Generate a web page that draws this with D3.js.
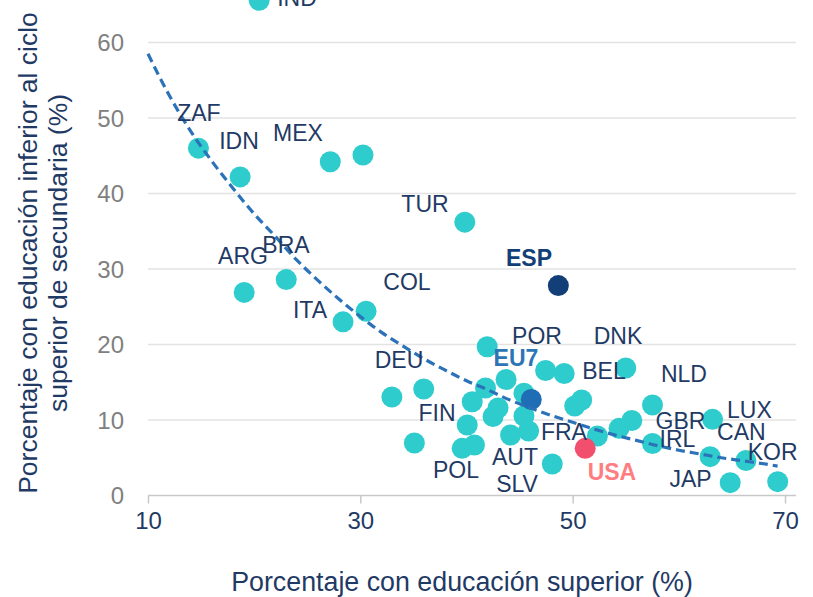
<!DOCTYPE html>
<html>
<head>
<meta charset="utf-8">
<script src="https://cdn.jsdelivr.net/npm/d3@7"></script>
<style>
  html, body { margin: 0; padding: 0; background: #ffffff; }
  svg { display: block; }
  text { font-family: "Liberation Sans", Arial, sans-serif; }
</style>
</head>
<body>
<svg id="chart" width="813" height="597"></svg>
<script>
// ---- Data ----
const pointX = [20.47, 14.75, 18.68, 27.17, 30.25, 19.06, 23.02, 28.37, 30.54, 39.84,
                48.65, 41.95, 32.97, 35.97, 35.09, 41.79, 40.54, 42.97, 42.5, 40.07,
                39.59, 40.75, 43.73, 45.41, 46.1, 45.41, 45.85, 44.15, 47.45, 49.2,
                55.0, 50.19, 50.85, 48.08, 52.33, 54.37, 55.57, 57.52, 57.52, 51.18,
                63.18, 62.95, 66.32, 64.84, 69.31];
const pointY = [65.6, 46.0, 42.2, 44.2, 45.1, 26.9, 28.6, 23.0, 24.4, 36.2,
                27.8, 19.7, 13.05, 14.1, 6.95, 14.24, 12.42, 11.59, 10.46, 9.34,
                6.25, 6.69, 15.36, 13.54, 12.72, 10.53, 8.54, 8.01, 16.56, 16.16,
                16.89, 11.85, 12.65, 4.17, 7.88, 8.9, 9.93, 11.99, 6.89, 6.25,
                10.09, 5.14, 4.64, 1.7, 1.83];
const pointGroup = ["oecd","oecd","oecd","oecd","oecd","oecd","oecd","oecd","oecd","oecd",
                    "esp","oecd","oecd","oecd","oecd","oecd","oecd","oecd","oecd","oecd",
                    "oecd","oecd","oecd","oecd","eu7","oecd","oecd","oecd","oecd","oecd",
                    "oecd","oecd","oecd","oecd","oecd","oecd","oecd","oecd","oecd","usa",
                    "oecd","oecd","oecd","oecd","oecd"];

const labelText = ["IND","ZAF","IDN","MEX","ARG","BRA","ITA","COL","TUR","ESP",
                   "POR","DNK","EU7","DEU","BEL","NLD","FIN","FRA","POL","AUT",
                   "SLV","USA","GBR","IRL","LUX","CAN","KOR","JAP"];
const labelX = [24.03, 14.80, 18.57, 24.13, 18.95, 23.0, 25.26, 34.39, 36.09, 45.89,
                46.64, 54.27, 44.66, 33.64, 52.95, 60.48, 37.22, 49.18, 39.01, 44.57,
                44.76, 53.7, 60.15, 59.87, 66.65, 65.89, 68.84, 61.10];
const labelY = [65.9, 50.66, 46.95, 48.01, 31.74, 33.18, 24.57, 28.28, 38.61, 31.46,
                21.13, 21.13, 18.21, 17.95, 16.49, 16.09, 10.93, 8.41, 3.38, 5.10,
                1.52, 3.11, 9.87, 7.48, 11.32, 8.41, 5.76, 2.19];
const labelGroup = ["oecd","oecd","oecd","oecd","oecd","oecd","oecd","oecd","oecd","esp",
                    "oecd","oecd","eu7","oecd","oecd","oecd","oecd","oecd","oecd","oecd",
                    "oecd","usa","oecd","oecd","oecd","oecd","oecd","oecd"];

const trendX = [10, 12, 14, 16, 18, 20, 22, 24, 26, 28, 30, 32, 34, 36, 38, 40, 42, 44, 46, 48,
                50, 52, 54, 56, 58, 60, 62, 64, 66, 68, 69.3];
const trendY = [58.5, 53.0, 48.3, 44.3, 40.7, 37.3, 34.3, 31.2, 28.5, 26.0, 23.7, 21.6, 19.8, 18.1, 16.6, 15.2, 14.0, 12.7, 11.6, 10.6,
                9.7, 8.8, 8.0, 7.3, 6.6, 6.0, 5.5, 5.0, 4.6, 4.2, 3.9];

const xTicks = [10, 30, 50, 70];
const yTicks = [0, 10, 20, 30, 40, 50, 60];

const xTitle = "Porcentaje con educación superior (%)";
const yTitleLines = ["Porcentaje con educación inferior al ciclo", "superior de secundaria (%)"];

// ---- Styles ----
const dotColor = { oecd: "#2ECCCC", esp: "#123F78", eu7: "#1F6EB5", usa: "#F24E6E" };
const labelColor = { oecd: "#1F3A64", esp: "#123F78", eu7: "#2E75B6", usa: "#FF7C80" };
const labelWeight = { oecd: "normal", esp: "bold", eu7: "bold", usa: "bold" };

const svg = d3.select("#chart");
const x = d3.scaleLinear().domain([10, 70]).range([148, 785]);
const y = d3.scaleLinear().domain([0, 60]).range([495.5, 42.5]);
const plotRight = 796;

// gridlines
svg.append("g").selectAll("line").data(yTicks.filter(d => d > 0)).join("line")
  .attr("x1", x(10)).attr("x2", plotRight)
  .attr("y1", d => y(d)).attr("y2", d => y(d))
  .attr("stroke", "#E3E3E3").attr("stroke-width", 1.5);

// y tick labels
svg.append("g").selectAll("text").data(yTicks).join("text")
  .attr("x", 124).attr("y", d => y(d)).attr("dy", "0.36em")
  .attr("text-anchor", "end").attr("fill", "#808080")
  .attr("font-size", 24).text(d => d);

// x axis
const xAxis = d3.axisBottom(x).tickValues(xTicks).tickSize(8).tickFormat(d => d);
const gx = svg.append("g").attr("transform", `translate(0,${y(0)})`).call(xAxis);
gx.select(".domain").attr("d", `M${x(10)},0H${plotRight}`).attr("stroke", "#C8C8C8").attr("stroke-width", 1.5);
gx.selectAll(".tick line").attr("stroke", "#C8C8C8").attr("stroke-width", 1.5);
gx.selectAll(".tick text").attr("fill", "#1F3A64").attr("font-size", 24)
  .attr("font-family", "'Liberation Sans', Arial, sans-serif").attr("y", 16);

// points
const pts = pointX.map((d, i) => ({ x: d, y: pointY[i], g: pointGroup[i] }));
const order = { oecd: 0, usa: 1, eu7: 2, esp: 3 };
pts.sort((a, b) => order[a.g] - order[b.g]);
svg.append("g").selectAll("circle").data(pts).join("circle")
  .attr("cx", d => x(d.x)).attr("cy", d => y(d.y)).attr("r", 10.5)
  .attr("fill", d => dotColor[d.g]);

// trend line
const trend = trendX.map((d, i) => [d, trendY[i]]);
svg.append("path").datum(trend)
  .attr("d", d3.line().x(d => x(d[0])).y(d => y(d[1])).curve(d3.curveMonotoneX))
  .attr("fill", "none").attr("stroke", "#2B72B8").attr("stroke-width", 3.2)
  .attr("stroke-dasharray", "9,5");

// labels
const labs = labelText.map((t, i) => ({ t, x: labelX[i], y: labelY[i], g: labelGroup[i] }));
svg.append("g").selectAll("text").data(labs).join("text")
  .attr("x", d => x(d.x)).attr("y", d => y(d.y)).attr("dy", "0.36em")
  .attr("text-anchor", "middle").attr("font-size", 23)
  .attr("font-weight", d => labelWeight[d.g])
  .attr("fill", d => labelColor[d.g]).text(d => d.t);

// axis titles
svg.append("text").attr("x", 462).attr("y", 591)
  .attr("text-anchor", "middle").attr("fill", "#1F3A64").attr("font-size", 26.8)
  .text(xTitle);

const yt = svg.append("text").attr("transform", "translate(0,253) rotate(-90)")
  .attr("text-anchor", "middle").attr("fill", "#1F3A64").attr("font-size", 26.5);
yt.selectAll("tspan").data(yTitleLines).join("tspan")
  .attr("x", 0).attr("y", (d, i) => 37 + i * 30).text(d => d);
</script>
</body>
</html>
